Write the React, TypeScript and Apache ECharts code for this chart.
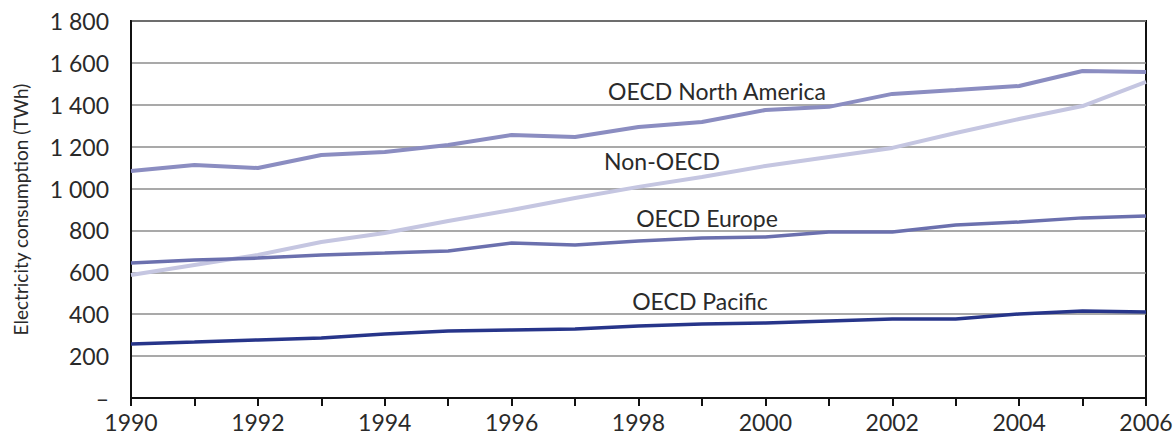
import React, { useEffect, useRef } from "react";
import * as echarts from "echarts";

const years = [1990, 1991, 1992, 1993, 1994, 1995, 1996, 1997, 1998, 1999, 2000, 2001, 2002, 2003, 2004, 2005, 2006];
const northAmerica = [1084, 1113, 1098, 1160, 1175, 1208, 1256, 1246, 1294, 1318, 1375, 1390, 1452, 1470, 1490, 1561, 1557];
const nonOecd = [587, 635, 683, 745, 788, 845, 898, 955, 1008, 1055, 1108, 1151, 1194, 1265, 1332, 1394, 1509];
const europe = [645, 659, 668, 683, 692, 702, 740, 731, 750, 764, 769, 793, 793, 826, 840, 860, 869];
const pacific = [258, 267, 277, 287, 306, 320, 325, 330, 344, 353, 358, 368, 377, 377, 401, 415, 411];
const seriesNames = ["OECD North America", "Non-OECD", "OECD Europe", "OECD Pacific"];
const yTickLabels: Record<number, string> = { 0: "–", 200: "200", 400: "400", 600: "600", 800: "800", 1000: "1 000", 1200: "1 200", 1400: "1 400", 1600: "1 600", 1800: "1 800" };

const FONT = "Lato, 'Open Sans', sans-serif";

export default function App() {
  const ref = useRef<HTMLDivElement>(null);
  useEffect(() => {
    if (!ref.current) return;
    const chart = echarts.init(ref.current, null, { renderer: "svg" });
    const pair = (vals: number[]) => years.map((y, i) => [y, vals[i]]);
    const mk = (name: string, vals: number[], color: string, width: number) => ({
      name,
      type: "line",
      data: pair(vals),
      symbol: "none",
      lineStyle: { color, width },
      itemStyle: { color },
      z: 3,
    });
    const label = (text: string, x: number, y: number) => ({
      type: "text",
      x,
      y,
      style: { text, fill: "#2a2a2a", font: `23px ${FONT}`, textAlign: "center", textVerticalAlign: "middle" },
    });
    chart.setOption({
      animation: false,
      backgroundColor: "#fff",
      grid: {
        left: 131, right: 27, top: 21, bottom: 37,
        outerBoundsMode: "none",
        containLabel: false,
        show: true, borderColor: "#111", borderWidth: 2, backgroundColor: "transparent",
      },
      xAxis: {
        type: "value",
        min: 1990,
        max: 2006,
        interval: 1,
        axisLine: { lineStyle: { color: "#111", width: 2 } },
        axisTick: { show: true, length: 8, lineStyle: { color: "#111", width: 2 } },
        axisLabel: {
          color: "#2a2a2a",
          fontSize: 23,
          fontFamily: FONT,
          margin: 12,
          formatter: (v: number) => (v % 2 === 0 ? String(v) : ""),
        },
        splitLine: { show: false },
      },
      yAxis: {
        type: "value",
        min: 0,
        max: 1800,
        interval: 200,
        name: "Electricity consumption (TWh)",
        nameLocation: "middle",
        nameGap: 101,
        nameTextStyle: { color: "#2a2a2a", fontSize: 19, fontFamily: FONT },
        axisLine: { show: true, lineStyle: { color: "#111", width: 2 } },
        axisTick: { show: false },
        axisLabel: {
          color: "#2a2a2a",
          fontSize: 23,
          fontFamily: FONT,
          margin: 22,
          formatter: (v: number) => yTickLabels[v] ?? String(v),
        },
        splitLine: { show: true, lineStyle: { color: "#8c8c8c", width: 1.5 } },
      },
      series: [
        mk(seriesNames[0], northAmerica, "#8b8dc1", 4),
        mk(seriesNames[1], nonOecd, "#c5c6e1", 4),
        mk(seriesNames[2], europe, "#6b70ae", 3.5),
        mk(seriesNames[3], pacific, "#27358a", 3.5),
      ],
      graphic: [
        label(seriesNames[0], 717, 91),
        label(seriesNames[1], 662, 161),
        label(seriesNames[2], 707, 218),
        label(seriesNames[3], 700, 301),
      ],
    });
    return () => chart.dispose();
  }, []);
  return <div ref={ref} style={{ width: 1173, height: 435, position: "absolute", left: 0, top: 0 }} />;
}
